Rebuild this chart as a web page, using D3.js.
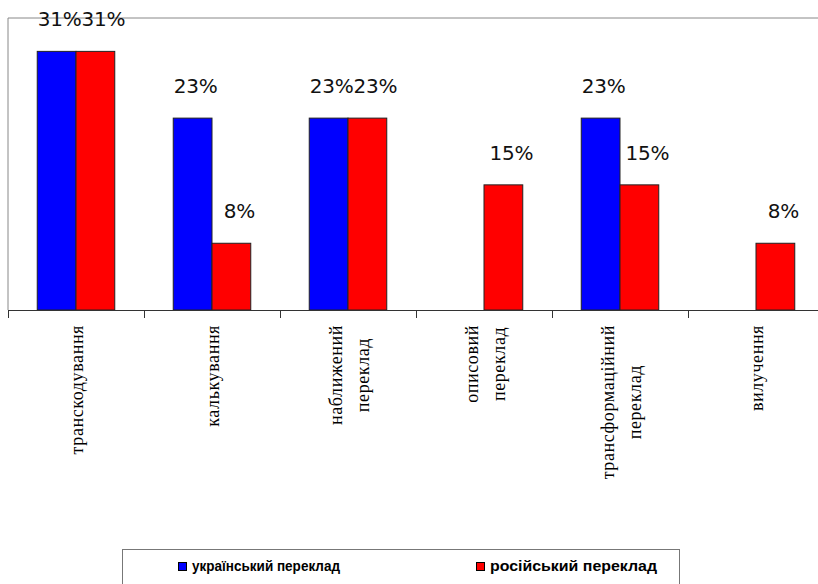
<!DOCTYPE html>
<html>
<head>
<meta charset="utf-8">
<script src="https://cdn.jsdelivr.net/npm/d3@7"></script>
<style>
  body { margin: 0; background: #fff; }
  svg { display: block; }
</style>
</head>
<body>
<svg id="chart" width="818" height="584"></svg>
<script>
// categories (each line of a tick label is its own entry)
let categories = [
  ['транскодування'],
  ['калькування'],
  ['наближений', 'переклад'],
  ['описовий', 'переклад'],
  ['трансформаційний', 'переклад'],
  ['вилучення']
]
let seriesNames = ['український переклад', 'російський переклад']
let ukrValues = [31, 23, 23, 0, 23, 0]
let rusValues = [31, 8, 23, 15, 15, 8]
let seriesColors = ['#0000ff', '#ff0000']

let svg = d3.select('#chart'),
    plotTop = 18,
    base = 310,
    plotLeft = 8,
    plotRight = 824

let catKeys = categories.map((c, i) => i)
let x0 = d3.scaleBand().domain(catKeys).range([plotLeft, plotRight])
  .paddingInner(0.43).paddingOuter(0.215)
let x1 = d3.scaleBand().domain([0, 1]).range([0, x0.bandwidth()])
let y = d3.scaleLinear().domain([0, 35]).range([base, plotTop])

// plot frame (top & left visible, right runs off the page)
svg.append('path')
  .attr('d', `M${plotLeft},${base}V${plotTop}H${plotRight}`)
  .attr('fill', 'none')
  .attr('stroke', '#888')
  .attr('stroke-width', 1)

let rows = catKeys.map(i => [ukrValues[i], rusValues[i]])

let groups = svg.selectAll('g.cat')
  .data(rows)
  .join('g')
  .attr('class', 'cat')
  .attr('transform', (d, i) => `translate(${x0(i)},0)`)

groups.selectAll('rect')
  .data(d => d.map((v, s) => ({v, s})).filter(e => e.v > 0))
  .join('rect')
  .attr('x', e => x1(e.s))
  .attr('y', e => y(e.v))
  .attr('width', x1.bandwidth())
  .attr('height', e => base - y(e.v))
  .attr('fill', e => seriesColors[e.s])
  .attr('stroke', '#222')
  .attr('stroke-width', 1)

// labels sit a little right of the bar centre, red ones more so (like the original)
let labelShift = [3, 8]
groups.selectAll('text.val')
  .data(d => d.map((v, s) => ({v, s})).filter(e => e.v > 0))
  .join('text')
  .attr('class', 'val')
  .attr('x', e => x1(e.s) + x1.bandwidth() / 2 + labelShift[e.s])
  .attr('y', e => y(e.v) - 25)
  .attr('text-anchor', 'middle')
  .attr('font-family', 'DejaVu Sans')
  .attr('font-size', '20px')
  .attr('letter-spacing', '-0.3px')
  .attr('fill', '#111')
  .text(e => e.v + '%')

// x axis line and ticks
let xAxis = d3.axisBottom(d3.scaleLinear().domain([0, 6]).range([plotLeft, plotRight]))
  .tickValues(d3.range(0, 7))
  .tickSize(8)
  .tickFormat('')
let axisG = svg.append('g')
  .attr('transform', `translate(0,${base})`)
  .call(xAxis)
axisG.select('.domain').attr('stroke', '#333')
axisG.selectAll('.tick line').attr('stroke', '#333')

// rotated category labels, lines centred on each other, top end at y=325
categories.forEach((lines, i) => {
  let cx = x0(i) + x0.bandwidth() / 2
  let lg = svg.append('g')
    .attr('transform', `translate(${cx + 1},325) rotate(-90)`)
  let texts = lines.map((line, k) => lg.append('text')
    .attr('font-family', 'Liberation Serif')
    .attr('font-size', '18px')
    .attr('letter-spacing', '0.6px')
    .attr('fill', '#000')
    .attr('text-anchor', 'middle')
    .attr('y', (k - (lines.length - 1) / 2) * 27)
    .attr('dy', '0.35em')
    .text(line))
  let maxLen = d3.max(texts, t => t.node().getComputedTextLength())
  texts.forEach(t => t.attr('x', -maxLen / 2))
})

// legend
svg.append('rect')
  .attr('x', 122.5).attr('y', 549.5)
  .attr('width', 557).attr('height', 50)
  .attr('fill', '#fff')
  .attr('stroke', '#777')
  .attr('stroke-width', 1)

let legendX = [178, 476], legendW = [148, 167]
seriesNames.forEach((name, s) => {
  svg.append('rect')
    .attr('x', legendX[s] + 0.5).attr('y', 562.5)
    .attr('width', 8).attr('height', 8)
    .attr('fill', seriesColors[s])
    .attr('stroke', '#000')
  svg.append('text')
    .attr('x', legendX[s] + 14)
    .attr('y', 570.5)
    .attr('font-family', 'Liberation Sans')
    .attr('font-weight', 'bold')
    .attr('font-size', '14px')
    .attr('textLength', legendW[s])
    .attr('lengthAdjust', 'spacingAndGlyphs')
    .attr('fill', '#000')
    .text(name)
})
</script>
</body>
</html>
